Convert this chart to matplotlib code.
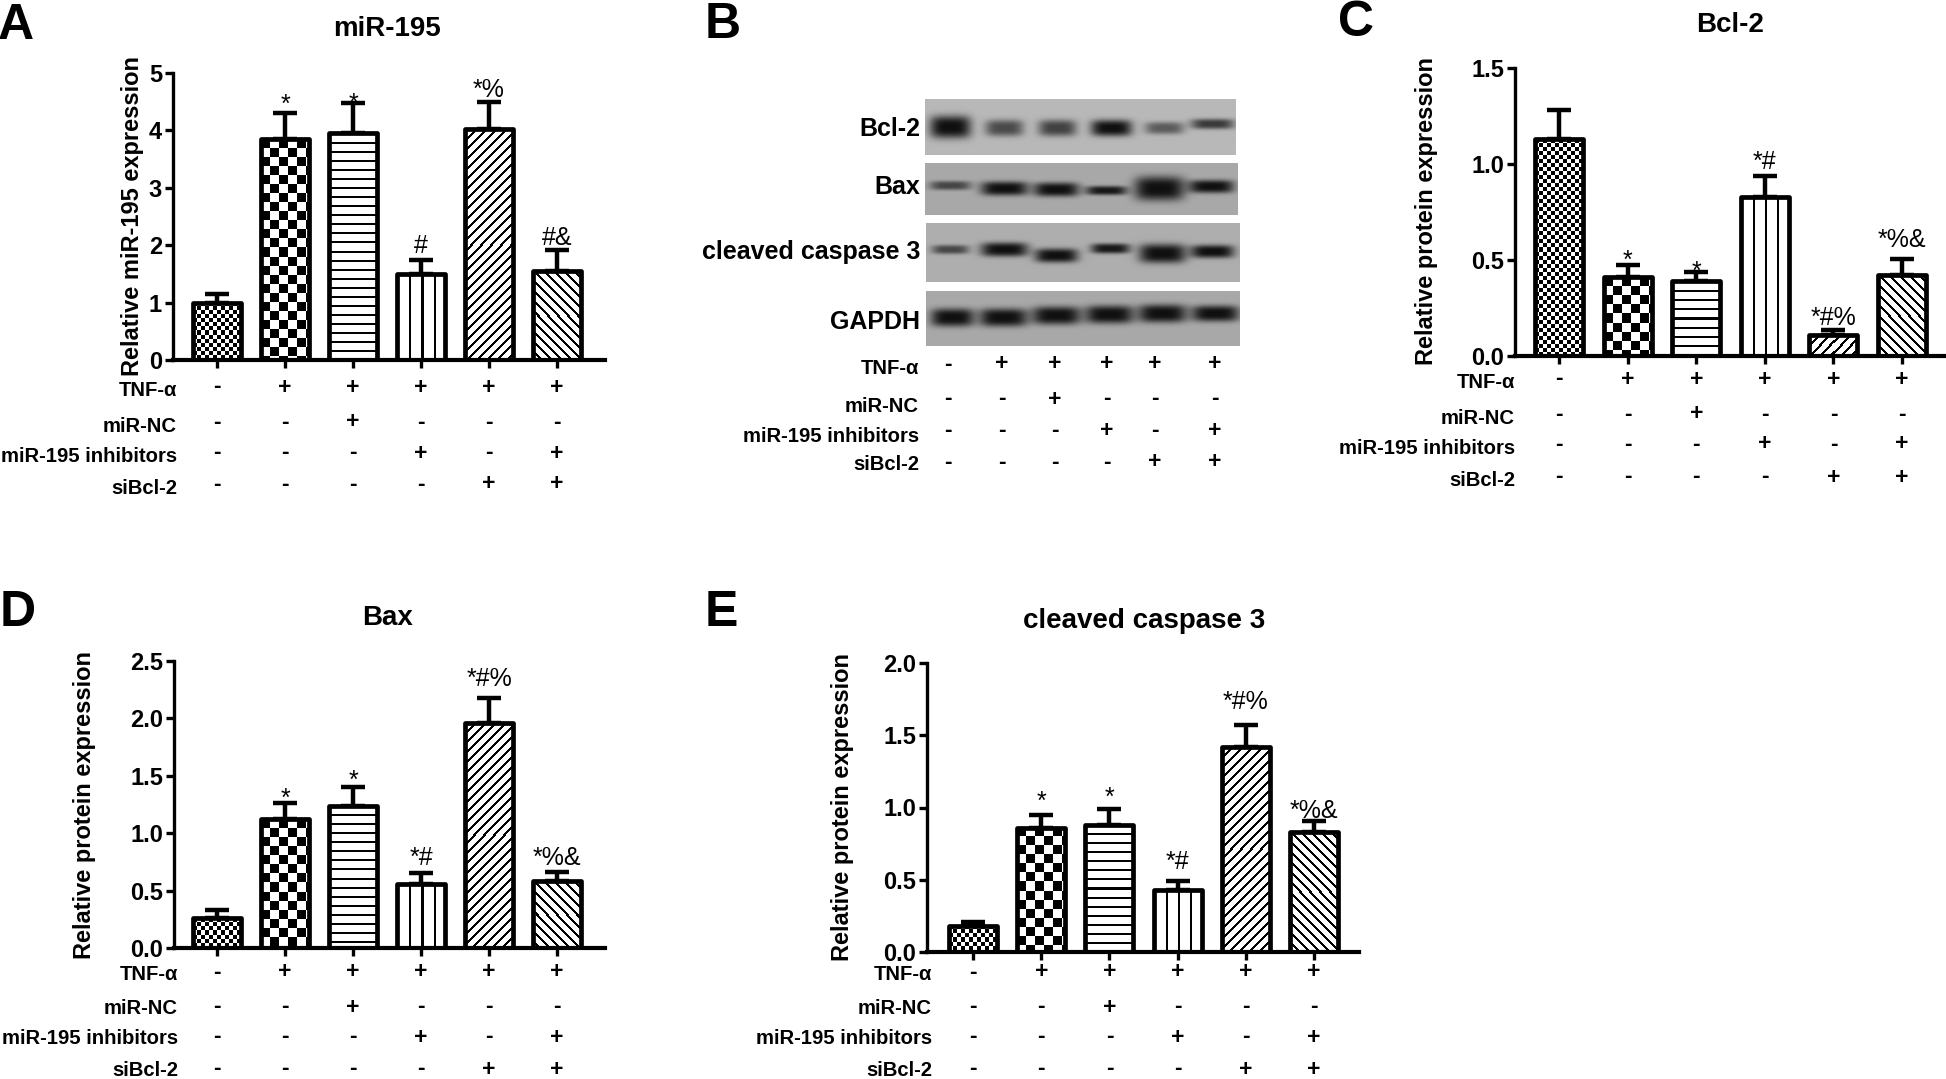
import numpy as np
import matplotlib
matplotlib.use("Agg")
import matplotlib.pyplot as plt

plt.rcParams['font.family'] = ['Liberation Sans', 'DejaVu Sans']
plt.rcParams['font.weight'] = 'bold'

W, H = 1946, 1079

# values
mir195_mean = [1.0, 3.85, 3.95, 1.5, 4.02, 1.55]
mir195_top = [1.15, 4.3, 4.48, 1.75, 4.5, 1.92]
mir195_marks = ['', '*', '*', '#', '*%', '#&']

bcl2_mean = [1.13, 0.41, 0.39, 0.83, 0.11, 0.42]
bcl2_top = [1.28, 0.475, 0.435, 0.94, 0.135, 0.505]
bcl2_marks = ['', '*', '*', '*#', '*#%', '*%&']

bax_mean = [0.26, 1.12, 1.24, 0.56, 1.96, 0.58]
bax_top = [0.33, 1.26, 1.40, 0.65, 2.18, 0.66]
bax_marks = ['', '*', '*', '*#', '*#%', '*%&']

casp3_mean = [0.18, 0.86, 0.88, 0.43, 1.42, 0.83]
casp3_top = [0.21, 0.95, 0.99, 0.49, 1.57, 0.91]
casp3_marks = ['', '*', '*', '*#', '*#%', '*%&']

row_names = ['TNF-α', 'miR-NC', 'miR-195 inhibitors', 'siBcl-2']
row_signs = [
    ['-', '+', '+', '+', '+', '+'],
    ['-', '-', '+', '-', '-', '-'],
    ['-', '-', '-', '+', '-', '+'],
    ['-', '-', '-', '-', '+', '+'],
]

# band darkness per lane on the blot
blot_names = ['Bcl-2', 'Bax', 'cleaved caspase 3', 'GAPDH']
blot_dark = [
    [1.0, 0.65, 0.7, 1.0, 0.55, 0.75],
    [0.65, 1.0, 1.0, 0.95, 1.0, 1.0],
    [0.65, 1.0, 1.0, 0.95, 1.0, 1.0],
    [1.0, 1.0, 1.0, 1.0, 1.0, 1.0],
]

FILLS = ['fine', 'check', 'hline', 'vline', 'up', 'down']


def px_text(x, y, s, **kw):
    return plt.figtext(x / W, 1 - y / H, s, **kw)


def fill_pattern(kind, w, h):
    y, x = np.mgrid[:h, :w]
    if kind == 'fine':
        return (x // 4 + y // 4) % 2
    if kind == 'check':
        return (x // 9 + y // 9) % 2
    if kind == 'hline':
        return (y % 9 >= 2).astype(int)
    if kind == 'vline':
        return (x % 12 >= 2).astype(int)
    if kind == 'up':
        return ((x + y) % 10 >= 3).astype(int)
    return ((x - y) % 10 >= 3).astype(int)


def bar_panel(box, centers, ymax, yticks, ytick_fmt, mean, top, marks, mark_off, row_off, label_dx, label_drop):
    left, right, ytop, ybot = box
    ax = fig.add_axes([left / W, 1 - ybot / H, (right - left) / W, (ybot - ytop) / H])
    step = (centers[-1] - centers[0]) / 5
    xlim = ((left - centers[0]) / step, (right - centers[0]) / step)
    width = 48 / step
    xs = np.arange(6)
    y_scale = (ybot - ytop) / ymax

    for i, v in enumerate(mean):
        pat = fill_pattern(FILLS[i], 48, max(int(v * y_scale), 1))
        ax.imshow(pat, extent=(i - width / 2, i + width / 2, 0, v), aspect='auto',
                  cmap='gray', vmin=0, vmax=1, interpolation='nearest', zorder=2)
    ax.bar(xs, mean, width=width, facecolor='none', edgecolor='k', linewidth=3.4,
           joinstyle='round', zorder=3)
    err = np.array(top) - np.array(mean)
    ax.errorbar(xs, mean, yerr=[np.zeros(6), err], fmt='none', ecolor='k',
                elinewidth=3.2, capsize=8.5, capthick=3.2, zorder=1)

    ax.set_xlim(*xlim)
    ax.set_ylim(0, ymax)
    ax.set_yticks(yticks)
    ax.set_yticklabels([ytick_fmt % t for t in yticks], fontsize=17)
    ax.set_xticks(xs)
    ax.set_xticklabels([])
    ax.tick_params(axis='both', length=6, width=2.4, pad=2)
    for side in ['top', 'right']:
        ax.spines[side].set_visible(False)
    ax.spines['left'].set_linewidth(2.4)
    ax.spines['bottom'].set_linewidth(3)

    for i, s in enumerate(marks):
        if s:
            ax.annotate(s, xy=(i, top[i]), xytext=(0, mark_off[i]), textcoords='offset pixels',
                        ha='center', va='baseline', fontsize=18, fontweight='normal',
                        annotation_clip=False)

    # +/- table under the axis
    trans = ax.get_xaxis_transform()
    for r, signs in enumerate(row_signs):
        ax.annotate(row_names[r], xy=(0, 0), xycoords='axes fraction',
                    xytext=(label_dx, -row_off[r] - label_drop), textcoords='offset pixels',
                    ha='right', va='center', fontsize=14.6)
        for i, s in enumerate(signs):
            ax.annotate(s, xy=(i, 0), xycoords=trans, xytext=(0, -row_off[r]),
                        textcoords='offset pixels', ha='center', va='center',
                        fontsize=16.5, annotation_clip=False)
    return ax


def blot(box, bg, lanes, ys, widths, heights, dark):
    left, right, ytop, ybot = box
    w, h = right - left, ybot - ytop
    yy, xx = np.mgrid[:h, :w]
    img = np.full((h, w), bg, dtype=float)
    for cx, cy, bw, bh, d in zip(lanes, ys, widths, heights, dark):
        shape = np.exp(-(((xx + left - cx) / (bw / 2)) ** 4) - (np.abs((yy + ytop - cy) / (bh / 2)) ** 3))
        img -= (bg - 0.06) * d * shape
    ax = fig.add_axes([left / W, 1 - ybot / H, w / W, h / H])
    ax.imshow(np.clip(img, 0, 1), cmap='gray', vmin=0, vmax=1, aspect='auto', interpolation='bilinear')
    ax.axis('off')


fig = plt.figure(figsize=(W / 100, H / 100), dpi=100)

centers_std = [217, 285, 353, 421, 489, 557]

bar_panel((173, 605, 73, 360), centers_std, 5, [0, 1, 2, 3, 4, 5], '%d',
          mir195_mean, mir195_top, mir195_marks, [0, 1, -8, 7, 5, 5], [27, 62, 93, 124], 4, 4)
bar_panel((1515, 1946, 68, 356), [1559, 1628, 1696, 1765, 1834, 1902], 1.5, [0, 0.5, 1.0, 1.5], '%.1f',
          bcl2_mean, bcl2_top, bcl2_marks, [0, -3, -6, 7, 5, 12], [23, 58, 88, 121], 0, 4)
bar_panel((174, 605, 661, 948), centers_std, 2.5, [0, 0.5, 1.0, 1.5, 2.0, 2.5], '%.1f',
          bax_mean, bax_top, bax_marks, [0, -3, -1, 8, 12, 7], [24, 59, 89, 121], 4, 2)
bar_panel((927, 1359, 663, 952), [973, 1041, 1108, 1176, 1245, 1314], 2.0, [0, 0.5, 1.0, 1.5, 2.0], '%.1f',
          casp3_mean, casp3_top, casp3_marks, [0, 6, 4, 12, 16, 3], [20, 55, 85, 117], 5, 2)

# western blot panel
blot((925, 1236, 99, 155), 0.72, [950, 1004, 1057, 1111, 1164, 1212], [127, 128, 128, 128, 128, 124],
     [41, 38, 38, 41, 39, 43], [22, 16, 16, 16, 12, 10], blot_dark[0])
blot((925, 1238, 163, 215), 0.66, [950, 1004, 1056, 1106, 1159, 1211], [185, 188, 189, 190, 188, 186],
     [41, 47, 45, 41, 50, 45], [9, 14, 14, 9, 24, 13], blot_dark[1])
blot((926, 1240, 223, 282), 0.68, [950, 1004, 1056, 1110, 1162, 1212], [249, 249, 255, 248, 253, 251],
     [37, 47, 43, 39, 47, 43], [9, 14, 14, 10, 19, 13], blot_dark[2])
blot((926, 1240, 291, 346), 0.66, [952, 1003, 1056, 1109, 1162, 1215], [317, 317, 315, 314, 313, 313],
     [43, 48, 48, 48, 48, 47], [18, 18, 18, 18, 18, 16], blot_dark[3])

for name, y in zip(blot_names, [129, 187, 252, 322]):
    px_text(920, y, name, ha='right', va='center', fontsize=18)

blot_lanes = [948, 1002, 1055, 1107, 1155, 1215]
for r, (label_y, sign_y) in enumerate(zip([369, 406, 437, 464], [364, 399, 431, 462])):
    px_text(919, label_y, row_names[r], ha='right', va='center', fontsize=14.6)
    for x, s in zip(blot_lanes, row_signs[r]):
        px_text(x, sign_y, s, ha='center', va='center', fontsize=16.5)

# titles and panel letters
for x, y, s in [(387, 29.5, 'miR-195'), (1730, 25, 'Bcl-2'), (388, 618, 'Bax'), (1144, 621, 'cleaved caspase 3')]:
    px_text(x, y, s, ha='center', va='center', fontsize=20)
for x, y, s in [(-2, 26, 'A'), (705, 25, 'B'), (1338, 23, 'C'), (0, 613, 'D'), (705, 613, 'E')]:
    px_text(x, y, s, ha='left', va='center', fontsize=36)

for x, y, s in [(132, 216, 'Relative miR-195 expression'), (1427, 211, 'Relative protein expression'),
                (85, 805, 'Relative protein expression'), (842, 807, 'Relative protein expression')]:
    px_text(x, y, s, ha='center', va='center', rotation=90, fontsize=17)

fig.savefig('out.png', dpi=100)
